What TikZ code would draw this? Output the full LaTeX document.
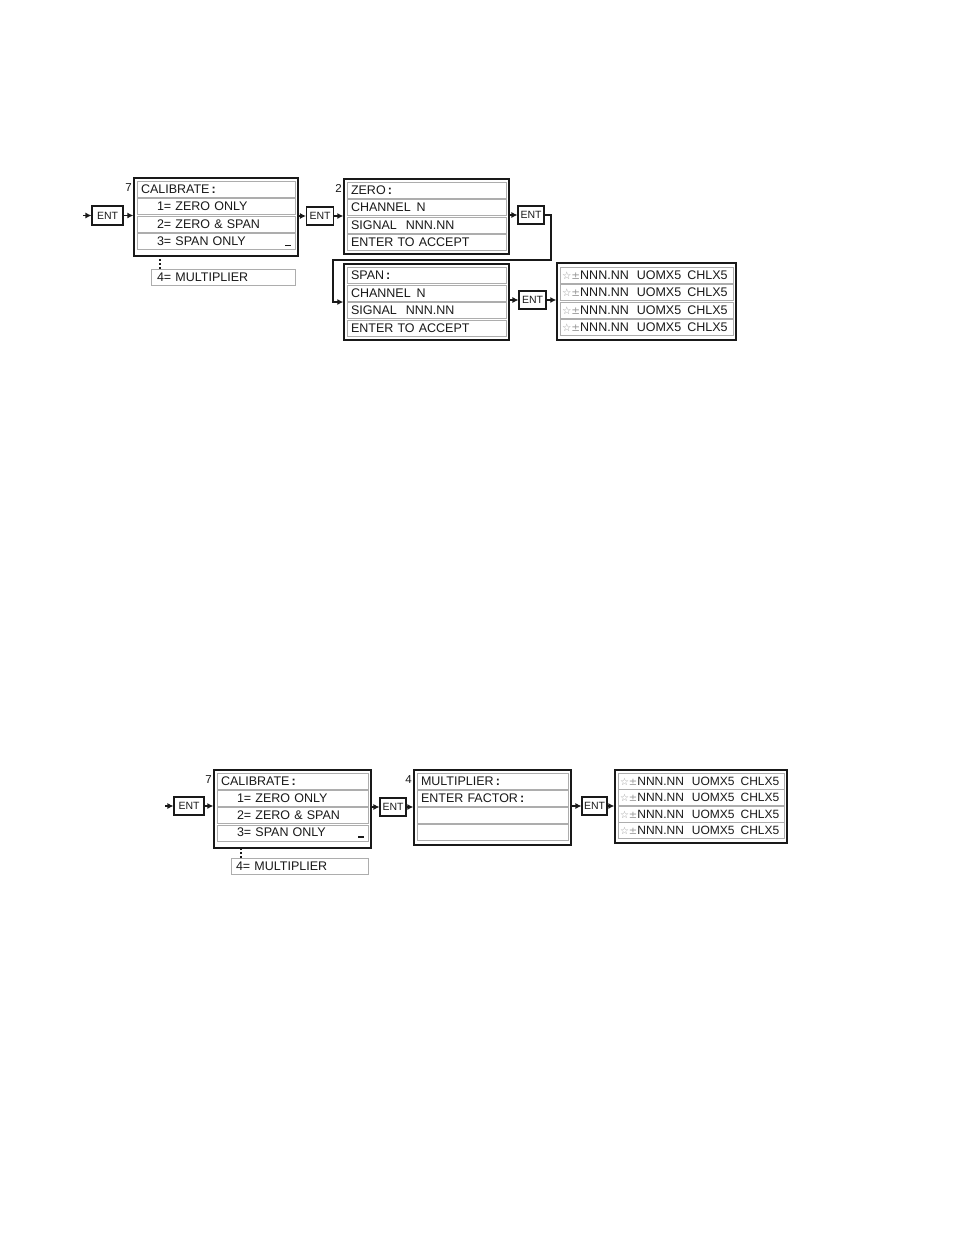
\documentclass[tikz,border=0pt]{standalone}
\usepackage{fontspec}
\setmainfont{Liberation Sans}
\newfontfamily\symfont{DejaVu Sans}
\usetikzlibrary{arrows.meta}
\definecolor{rowgray}{gray}{0.68}
\definecolor{symgray}{gray}{0.6}
\definecolor{ink}{gray}{0.1}
\newcommand{\disptext}{\mbox{{\symfont\fontsize{10.5}{11}\selectfont\color{symgray}☆±}NNN.NN\hspace{8pt}UOMX5\hspace{6pt}CHLX5}}
\newcommand{\disptextb}{\mbox{\fontsize{12}{13}\selectfont{\symfont\fontsize{10}{11}\selectfont\color{symgray}☆±}NNN.NN\hspace{8pt}UOMX5\hspace{6pt}CHLX5}}
\begin{document}
\begin{tikzpicture}[x=1pt,y=-1pt,
  outer/.style={draw=ink, line width=1.4pt, fill=white, inner sep=0pt},
  row/.style={draw=rowgray, line width=0.9pt, fill=white, minimum height=16pt, inner xsep=4pt, inner ysep=0pt, text width=#1, align=left, font=\fontsize{12.5}{13}\selectfont, text=ink},
  entbox/.style={draw=ink, line width=1.1pt, fill=white, inner sep=0pt, font=\fontsize{10.5}{11}\selectfont, text=ink},
  arr/.style={-{Latex[length=6pt,width=6pt]}, line width=1.1pt, draw=ink},
  arrthick/.style={-{Latex[length=6pt,width=6pt]}, line width=1.8pt, draw=ink},
  lbl/.style={font=\fontsize{11.5}{12}\selectfont, inner sep=0pt, anchor=east, text=ink},
  dots/.style={line width=2pt, dash pattern=on 2pt off 2pt, draw=ink}
]
\useasboundingbox (0,0) rectangle (954,1235);

% ================= TOP =================
\coordinate (in1) at (83,215.5);
\node[entbox, minimum width=31pt, minimum height=19pt] (e1) at (107.5,215.5) {ENT};
\node[outer, minimum width=164pt, minimum height=78pt] (cal1) at (216,217) {};
\node[row=150pt] (c1a) at (216,189) {CALIBRATE\,\textbf{:}};
\node[row=150pt] (c1b) at (216,206.5) {\hspace*{16pt}1= ZERO ONLY};
\node[row=150pt] (c1c) at (216,224) {\hspace*{16pt}2= ZERO \& SPAN};
\node[row=150pt] (c1d) at (216,241.5) {\hspace*{16pt}3= SPAN ONLY\hfill\rule[-1pt]{6pt}{1.6pt}};
\node[lbl] (n7a) at (132,188) {7};
\node[row=136pt] (m1) at (223,277) {\hspace*{2pt}4= MULTIPLIER};
\draw[dots] ([xshift=9pt]m1.north west) -- ([xshift=9pt]m1.north west |- cal1.south);
\draw[arr] (in1) -- (e1.west);
\draw[arr] (e1.east) -- (e1.east -| cal1.west);

\node[entbox, minimum width=27pt, minimum height=18pt] (e2) at (320,216) {ENT};
\node[outer, minimum width=165pt, minimum height=75pt] (zero) at (426.5,216.5) {};
\node[row=151pt] (z1) at (426.5,190) {ZERO\,\textbf{:}};
\node[row=151pt] (z2) at (426.5,207.5) {CHANNEL\hspace{6pt}N};
\node[row=151pt] (z3) at (426.5,225) {SIGNAL\hspace{9pt}NNN.NN};
\node[row=151pt] (z4) at (426.5,242.5) {ENTER TO ACCEPT};
\node[lbl] (n2) at (342,188) {2};
\draw[arr] (cal1.east |- e2) -- (e2.west);
\draw[arr] (e2.east) -- (e2.east -| zero.west);

\node[entbox, minimum width=26pt, minimum height=18pt] (e3) at (531,215) {ENT};
\draw[arr] (zero.east |- e3) -- (e3.west);

\node[outer, minimum width=165pt, minimum height=76pt] (span) at (426.5,302) {};
\node[row=151pt] (s1) at (426.5,275.5) {SPAN\,\textbf{:}};
\node[row=151pt] (s2) at (426.5,293) {CHANNEL\hspace{6pt}N};
\node[row=151pt] (s3) at (426.5,310.5) {SIGNAL\hspace{9pt}NNN.NN};
\node[row=151pt] (s4) at (426.5,328) {ENTER TO ACCEPT};
\coordinate (k1) at (551,260);
\coordinate (k2) at (333,260);
\draw[arrthick] (e3.east) -| (k1) -- (k2) |- (span.west);

\node[entbox, minimum width=27pt, minimum height=18pt] (e4) at (532.5,300) {ENT};
\node[outer, minimum width=179pt, minimum height=77pt] (d1) at (646.5,301.5) {};
\node[row=169pt, inner xsep=2pt] (d1a) at (646.5,275) {\disptext};
\node[row=169pt, inner xsep=2pt] (d1b) at (646.5,292.5) {\disptext};
\node[row=169pt, inner xsep=2pt] (d1c) at (646.5,310) {\disptext};
\node[row=169pt, inner xsep=2pt] (d1d) at (646.5,327.5) {\disptext};
\draw[arr] (span.east |- e4) -- (e4.west);
\draw[arr] (e4.east) -- (e4.east -| d1.west);

% ================= BOTTOM =================
\coordinate (in2) at (165,806);
\node[entbox, minimum width=30pt, minimum height=18pt] (e5) at (189,806) {ENT};
\node[outer, minimum width=157pt, minimum height=78pt] (cal2) at (292.5,809) {};
\node[row=143pt] (c2a) at (292.5,781) {CALIBRATE\,\textbf{:}};
\node[row=143pt] (c2b) at (292.5,798) {\hspace*{16pt}1= ZERO ONLY};
\node[row=143pt] (c2c) at (292.5,815.5) {\hspace*{16pt}2= ZERO \& SPAN};
\node[row=143pt] (c2d) at (292.5,833) {\hspace*{16pt}3= SPAN ONLY\hfill\rule[-1pt]{6pt}{1.6pt}};
\node[lbl] (n7b) at (212,780) {7};
\node[row=129pt] (m2) at (299.5,866.5) {\hspace*{1pt}4= MULTIPLIER};
\draw[dots] ([xshift=10pt]m2.north west) -- ([xshift=10pt]m2.north west |- cal2.south);
\draw[arr] (in2) -- (e5.west);
\draw[arr] (e5.east) -- (e5.east -| cal2.west);

\node[entbox, minimum width=26pt, minimum height=18pt] (e6) at (393,807) {ENT};
\node[outer, minimum width=157pt, minimum height=75pt] (mult) at (492.5,807.5) {};
\node[row=143pt] (u1) at (492.5,781) {MULTIPLIER\,\textbf{:}};
\node[row=143pt] (u2) at (492.5,798) {ENTER FACTOR\,\textbf{:}};
\node[row=143pt] (u3) at (492.5,815) {};
\node[row=143pt] (u4) at (492.5,832) {};
\node[lbl] (n4) at (412,780) {4};
\draw[arr] (cal2.east |- e6) -- (e6.west);
\draw[arr] (e6.east) -- (e6.east -| mult.west);

\node[entbox, minimum width=25pt, minimum height=18pt] (e7) at (594.5,806) {ENT};
\node[outer, minimum width=172pt, minimum height=73pt] (d2) at (701,806.5) {};
\node[row=162pt, inner xsep=2pt] (d2a) at (701,781) {\disptextb};
\node[row=162pt, inner xsep=2pt] (d2b) at (701,797.5) {\disptextb};
\node[row=162pt, inner xsep=2pt] (d2c) at (701,814) {\disptextb};
\node[row=162pt, inner xsep=2pt] (d2d) at (701,830.5) {\disptextb};
\draw[arr] (mult.east |- e7) -- (e7.west);
\draw[arr] (e7.east) -- (e7.east -| d2.west);
\end{tikzpicture}
\end{document}
